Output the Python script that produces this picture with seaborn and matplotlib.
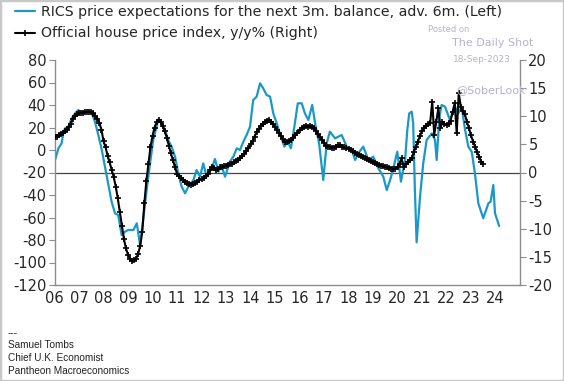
import numpy as np
import pandas as pd
import matplotlib
matplotlib.use("Agg")
import matplotlib.pyplot as plt
import seaborn as sns

# ---------------- data ----------------
# Official house price index, y/y% (right axis), monthly from Jan 2006
hpi_start = 2006.0
hpi = [
    # 2006
    6.3, 6.4, 6.6, 6.8, 7.1, 7.3, 7.6, 8.1, 8.6, 9.6, 10.0, 10.4,
    # 2007
    10.5, 10.6, 10.6, 10.7, 10.8, 10.8, 10.7, 10.5, 10.1, 9.6, 8.8, 7.6,
    # 2008
    5.6, 4.5, 3.0, 1.8, 0.5, -0.8, -2.5, -4.6, -7.0, -9.5, -11.8, -13.5,
    # 2009
    -14.6, -15.3, -15.7, -15.6, -15.3, -14.4, -13.0, -10.5, -5.5, -1.5, 1.5, 4.5,
    # 2010
    6.5, 8.0, 8.9, 9.3, 9.0, 8.2, 7.3, 6.2, 4.8, 3.4, 2.2, 1.0,
    # 2011
    -0.2, -0.6, -1.0, -1.3, -1.6, -1.9, -2.1, -2.2, -2.1, -1.9, -1.7, -1.3,
    # 2012
    -1.1, -0.9, -0.6, -0.2, 0.4, 1.0, 0.8, 0.4, 0.6, 0.9, 1.0, 1.1,
    # 2013
    1.2, 1.3, 1.5, 1.6, 1.8, 2.0, 2.3, 2.6, 2.9, 3.3, 3.8, 4.3,
    # 2014
    5.0, 5.6, 6.4, 7.2, 7.8, 8.3, 8.7, 9.0, 9.2, 9.3, 9.0, 8.6,
    # 2015
    8.1, 7.6, 7.0, 6.5, 5.9, 5.5, 5.4, 5.6, 5.8, 6.2, 6.6, 7.0,
    # 2016
    7.6, 7.9, 8.1, 8.3, 8.1, 8.2, 8.1, 7.9, 7.4, 6.8, 6.3, 5.8,
    # 2017
    5.3, 4.8, 4.6, 4.5, 4.3, 4.4, 4.6, 4.9, 4.9, 4.6, 4.5, 4.3,
    # 2018
    4.2, 4.0, 3.8, 3.5, 3.3, 3.1, 3.0, 2.8, 2.6, 2.4, 2.2, 2.0,
    # 2019
    1.9, 1.7, 1.5, 1.3, 1.2, 1.1, 1.0, 0.9, 0.8, 0.7, 0.6, 0.7,
    # 2020
    1.0, 1.5, 2.5, 1.0, 1.6, 1.9, 2.2, 2.5, 3.7, 4.5, 5.5, 6.5,
    # 2021
    7.4, 7.9, 8.3, 8.6, 8.8, 12.6, 6.7, 9.0, 11.4, 7.9, 9.0, 8.6,
    # 2022
    8.4, 8.7, 9.2, 10.8, 12.3, 7.0, 14.1, 11.7, 10.9, 10.4, 9.0, 7.9,
    # 2023
    6.6, 5.5, 4.6, 3.6, 2.8, 1.9, 1.6,
]

# RICS price expectations balance, advanced 6m (left axis)
rics_t = [
    2006.02, 2006.16, 2006.29, 2006.36, 2006.43, 2006.56, 2006.70, 2006.84, 2006.97,
    2007.11, 2007.24, 2007.38, 2007.52, 2007.65, 2007.79, 2007.93,
    2008.06, 2008.20, 2008.33, 2008.47, 2008.60, 2008.74, 2008.88,
    2009.01, 2009.22, 2009.36, 2009.49, 2009.62, 2009.76, 2009.90,
    2010.03, 2010.24, 2010.38, 2010.51, 2010.64, 2010.78, 2010.92,
    2011.05, 2011.19, 2011.33, 2011.46, 2011.67, 2011.80, 2011.94,
    2012.07, 2012.21, 2012.42, 2012.55, 2012.69, 2012.82, 2012.96,
    2013.16, 2013.30, 2013.44, 2013.57, 2013.71, 2013.84, 2013.98,
    2014.11, 2014.25, 2014.39, 2014.52, 2014.66, 2014.80, 2014.93,
    2015.07, 2015.20, 2015.38, 2015.52, 2015.65, 2015.79, 2015.93,
    2016.09, 2016.22, 2016.36, 2016.52, 2016.66, 2016.80, 2016.97,
    2017.11, 2017.24, 2017.45, 2017.72, 2017.93,
    2018.13, 2018.27, 2018.40, 2018.60, 2018.81,
    2019.01, 2019.22, 2019.42, 2019.56, 2019.72, 2019.83, 2019.99,
    2020.14, 2020.31, 2020.40, 2020.48, 2020.58, 2020.64, 2020.71, 2020.78, 2020.92,
    2021.05, 2021.19, 2021.40, 2021.53, 2021.60, 2021.71, 2021.80, 2021.94,
    2022.14, 2022.35, 2022.48, 2022.62, 2022.76, 2022.89,
    2023.03, 2023.16, 2023.30, 2023.50, 2023.71, 2023.80, 2023.91, 2023.98, 2024.15,
]
rics_v = [
    -8.9, 1.5, 5.9, 14.8, 19.3, 20.7, 28.1, 32.6, 35.6,
    32.6, 34.1, 34.1, 32.6, 25.2, 13.3, 0.0,
    -14.8, -31.1, -45.9, -56.3, -57.8, -75.6, -72.6,
    -71.1, -71.1, -65.2, -84.4, -62.0, -35.6, -11.9,
    8.9, 27.3, 23.7, 17.8, 8.9, 3.0, -5.9,
    -20.7, -32.6, -38.5, -32.6, -26.7, -17.8, -23.7,
    -11.9, -23.7, -16.3, -8.0, -19.3, -14.0, -23.7,
    -10.4, -5.9, 1.5, 0.0, 7.4, 13.3, 20.7,
    44.4, 47.4, 59.3, 54.8, 48.9, 47.4, 32.6,
    23.7, 14.8, 3.0, 7.4, 1.5, 20.7, 41.5,
    41.5, 32.6, 26.7, 40.0, 20.7, 5.9, -26.7,
    5.9, 16.3, 10.4, 13.3, 3.0,
    0.0, -8.9, -3.0, 3.0, -8.9,
    -5.9, -16.3, -23.7, -35.6, -25.2, -16.3, -1.5,
    -28.1, -8.9, 17.8, 32.6, 34.1, 23.7, -35.6, -82.0, -41.5,
    -11.9, 8.9, 14.8, 8.9, -8.9, 29.6, 40.0, 38.5,
    26.7, 38.5, 32.6, 38.5, 17.8, 3.0,
    -1.5, -20.7, -47.4, -60.7, -47.4, -45.9, -31.1, -56.3, -67.6,
]

year_ticks = list(range(2006, 2025))
year_labels = [f"{y % 100:02d}" for y in year_ticks]
left_ticks = list(range(-120, 81, 20))
right_ticks = list(range(-20, 21, 5))

label_rics = "RICS price expectations for the next 3m. balance, adv. 6m. (Left)"
label_hpi = "Official house price index, y/y% (Right)"

# ---------------- plot ----------------
sns.set_theme(style="white")
plt.rcParams["font.family"] = ["DejaVu Sans"]
plt.rcParams["axes.unicode_minus"] = False

BLUE = "#1b98c7"
TXT = "#262626"
SPINE = "#8c8c8c"

fig = plt.figure(figsize=(5.64, 3.81), dpi=100)
fig.patch.set_facecolor("white")
ax = fig.add_axes([54.5 / 564, 1 - 285 / 381, (520 - 54.5) / 564, (285 - 60) / 381])
ax2 = ax.twinx()

df_rics = pd.DataFrame({"t": rics_t, "v": rics_v})
hpi_t = hpi_start + np.arange(len(hpi)) / 12.0
df_hpi = pd.DataFrame({"t": hpi_t, "v": hpi})

sns.lineplot(data=df_rics, x="t", y="v", ax=ax, color=BLUE, lw=1.6,
             label=label_rics, legend=False)
sns.lineplot(data=df_hpi, x="t", y="v", ax=ax2, color="black", lw=1.5,
             marker="+", markersize=4, markeredgewidth=1.2,
             markeredgecolor="black", markerfacecolor="black",
             label=label_hpi, legend=False)

ax.axhline(-20, color="#444444", lw=0.9, zorder=1)

ax.set_xlim(2006, 2025)
ax.set_ylim(-120, 80)
ax2.set_ylim(-20, 20)
ax.set_xticks(year_ticks + [2025])
ax.set_xticklabels(year_labels + [""])
ax.set_yticks(left_ticks)
ax2.set_yticks(right_ticks)
ax.set_xlabel("")
ax.set_ylabel("")
ax2.set_ylabel("")

for a in (ax, ax2):
    a.spines["top"].set_visible(False)
    for s in ("left", "right", "bottom"):
        a.spines[s].set_color(SPINE)
        a.spines[s].set_linewidth(1.0)
ax.spines["right"].set_visible(False)
ax2.spines["left"].set_visible(False)
ax2.spines["bottom"].set_visible(False)

ax.tick_params(axis="y", direction="out", length=4, width=0.8, color=SPINE,
               labelsize=10.5, labelcolor=TXT, pad=2)
ax2.tick_params(axis="y", direction="out", length=4, width=0.8, color=SPINE,
                labelsize=10.5, labelcolor=TXT, pad=2)
ax.tick_params(axis="x", direction="in", length=4, width=0.8, color=SPINE,
               labelsize=10.5, labelcolor=TXT, pad=4)
ax.grid(False)
ax2.grid(False)

h1, l1 = ax.get_legend_handles_labels()
h2, l2 = ax2.get_legend_handles_labels()
fig.legend(h1 + h2, l1 + l2, loc="upper left", bbox_to_anchor=(0.012, 1.01),
           frameon=False, fontsize=10.2, labelcolor=TXT, handlelength=1.4,
           handletextpad=0.4, labelspacing=0.55, borderaxespad=0.2)

# watermark
WM = "#b4b4c8"
fig.text(428 / 564, 1 - 29 / 381, "Posted on", fontsize=6, color=WM, va="center")
fig.text(452 / 564, 1 - 43 / 381, "The Daily Shot", fontsize=8, color=WM, va="center")
fig.text(453 / 564, 1 - 60 / 381, "18-Sep-2023", fontsize=6.5, color=WM, va="center")
fig.text(456 / 564, 1 - 90 / 381, "@SoberLook", fontsize=8, color=WM, va="center")

# footer
foot = ["---", "Samuel Tombs", "Chief U.K. Economist", "Pantheon Macroeconomics"]
for i, line in enumerate(foot):
    fig.text(8 / 564, 1 - (333 + 12.5 * i) / 381, line, fontsize=7.2,
             color="#222222", va="center", family=["Liberation Sans"])

# frame
fig.patches.append(plt.Rectangle((0, 0), 1, 1, transform=fig.transFigure,
                                 fill=False, edgecolor="#c8c8c8", lw=2.5))

fig.savefig("out.png", dpi=100, facecolor="white")
